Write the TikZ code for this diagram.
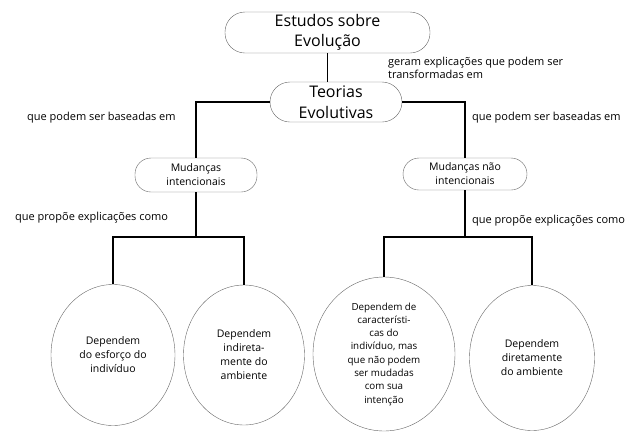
\documentclass[tikz,border=0pt]{standalone}
\usepackage{fontspec}
\setmainfont{Open Sans}
\usepackage{tikz}
\usetikzlibrary{shapes,arrows,positioning}

\begin{document}
\begin{tikzpicture}[x=1pt,y=-1pt,
  box/.style={draw=black!60, rounded corners=16pt, align=center, inner sep=0pt},
  leaf/.style={draw=black!60, ellipse, align=center, inner sep=0pt, font=\fontsize{10.5}{14}\selectfont},
  lbl/.style={anchor=west, align=left, inner sep=0pt, font=\fontsize{11}{12.5}\selectfont},
  link/.style={color=black, line width=1.6pt}]
\useasboundingbox (0,0) rectangle (630,432);
\node (top) at (327.5,32.5) [box, minimum width=205pt, minimum height=41pt, rounded corners=20pt, font=\fontsize{16}{20}\selectfont] {Estudos sobre\\Evolução};
\node (teo) at (336,102) [box, minimum width=132pt, minimum height=40pt, rounded corners=20pt, font=\fontsize{16}{21}\selectfont] {Teorias\\Evolutivas};
\node (m1) at (196,175) [box, minimum width=122pt, minimum height=34pt, font=\fontsize{10.5}{14}\selectfont] {Mudanças\\intencionais};
\node (m2) at (465,174) [box, minimum width=124pt, minimum height=32pt, font=\fontsize{10.5}{14}\selectfont] {Mudanças não\\intencionais};
\node (e1) at (113,355) [leaf, minimum width=124pt, minimum height=141pt] {Dependem\\do esforço do\\indivíduo};
\node (e2) at (244,355) [leaf, minimum width=121pt, minimum height=140pt] {Dependem\\indireta-\\mente do\\ambiente};
\node (e3) at (384,354) [leaf, minimum width=142pt, minimum height=154pt, font=\fontsize{9.8}{13.3}\selectfont] {Dependem de\\característi-\\cas do\\indivíduo, mas\\que não podem\\ser mudadas\\com sua\\intenção};
\node (e4) at (532,358) [leaf, minimum width=125pt, minimum height=145pt] {Dependem\\diretamente\\do ambiente};
\node (g1) at (388,68) [lbl] {geram explicações que podem ser\\transformadas em};
\node (l1) at (27,118) [lbl] {que podem ser baseadas em};
\node (r1) at (472,118) [lbl] {que podem ser baseadas em};
\node (l2) at (15,218) [lbl] {que propõe explicações como};
\node (r2) at (472,221) [lbl] {que propõe explicações como};
\coordinate (j1) at (196,237);
\coordinate (j2) at (465,237);
\draw[link] (top.south) -- (top.south |- teo.north);
\draw[link] (teo.west) -| (m1.north);
\draw[link] (teo.east) -| (m2.north);
\draw[link] (m1.south) -- (j1);
\draw[link] (m2.south) -- (j2);
\draw[link] (j1) -| (e1.north);
\draw[link] (j1) -| (e2.north);
\draw[link] (j2) -| (e3.north);
\draw[link] (j2) -| (e4.north);
\end{tikzpicture}
\end{document}
